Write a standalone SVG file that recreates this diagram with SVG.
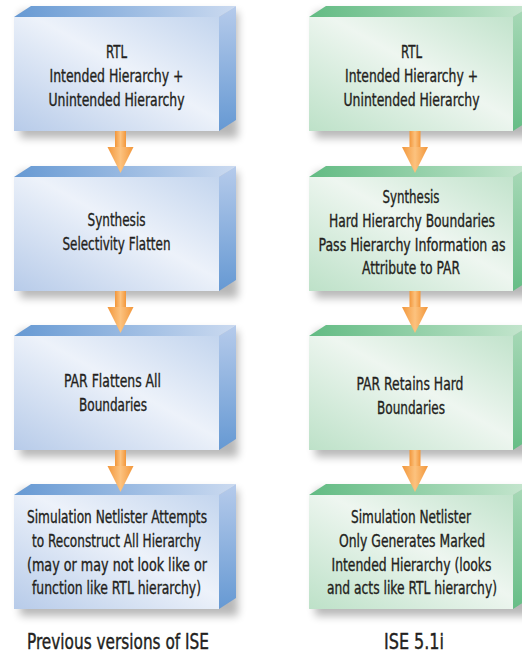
<svg xmlns="http://www.w3.org/2000/svg" width="522" height="655" viewBox="0 0 522 655">
<defs>
<linearGradient id="bFront" x1="0" y1="1" x2="1" y2="0"><stop offset="0" stop-color="#b7cbe9"/><stop offset="0.55" stop-color="#edf2fa"/><stop offset="1" stop-color="#c3d5ee"/></linearGradient>
<linearGradient id="bTop" x1="0" y1="0" x2="1" y2="0"><stop offset="0" stop-color="#6699d3"/><stop offset="1" stop-color="#cbdaf0"/></linearGradient>
<linearGradient id="bSide" x1="0" y1="0" x2="0" y2="1"><stop offset="0" stop-color="#b6cbeb"/><stop offset="1" stop-color="#6699d3"/></linearGradient>
<linearGradient id="gFront" x1="0" y1="1" x2="1" y2="0"><stop offset="0" stop-color="#bde1c8"/><stop offset="0.55" stop-color="#eef6f0"/><stop offset="1" stop-color="#c2e3cc"/></linearGradient>
<linearGradient id="gTop" x1="0" y1="0" x2="1" y2="0"><stop offset="0" stop-color="#62bb83"/><stop offset="1" stop-color="#c6e6cf"/></linearGradient>
<linearGradient id="gSide" x1="0" y1="0" x2="0" y2="1"><stop offset="0" stop-color="#a9d9b8"/><stop offset="1" stop-color="#66bd86"/></linearGradient>
<linearGradient id="orange" x1="0" y1="0" x2="1" y2="0"><stop offset="0" stop-color="#f2963a"/><stop offset="0.5" stop-color="#fcc27e"/><stop offset="1" stop-color="#f2963a"/></linearGradient>
<filter id="blur" x="-20%" y="-20%" width="140%" height="140%"><feGaussianBlur stdDeviation="4"/></filter>
<g id="arrow">
<rect x="-5.5" y="0" width="11" height="17" fill="url(#orange)"/>
<polygon points="-13,16 13,16 0,42" fill="url(#orange)"/>
</g>
</defs>
<style>
.sh{fill:#000;opacity:0.28;filter:url(#blur)}
.t{font-family:"DejaVu Sans Condensed","DejaVu Sans","Liberation Sans",sans-serif;font-stretch:condensed;font-size:18px;fill:#231f20;stroke:#231f20;stroke-width:0.35px;text-anchor:middle}
.cap{font-family:"DejaVu Sans Condensed","DejaVu Sans","Liberation Sans",sans-serif;font-stretch:condensed;font-size:22px;fill:#231f20;stroke:#231f20;stroke-width:0.4px;text-anchor:middle}
</style>
<rect width="522" height="655" fill="#ffffff"/>

<!-- Left column -->
<g id="L1">
<rect class="sh" x="20" y="12" width="218" height="126"/>
<polygon points="14,17 31,6 236,6 219,17" fill="url(#bTop)"/>
<polygon points="219,17 236,6 236,120 219,131" fill="url(#bSide)"/>
<rect x="14" y="17" width="205" height="114" fill="url(#bFront)"/>
<g transform="scale(0.8,1)">
<text class="t" x="145.63" y="58" textLength="26.25" lengthAdjust="spacingAndGlyphs">RTL</text>
<text class="t" x="145.63" y="82" textLength="167.5" lengthAdjust="spacingAndGlyphs">Intended Hierarchy +</text>
<text class="t" x="145.63" y="106" textLength="170" lengthAdjust="spacingAndGlyphs">Unintended Hierarchy</text>
</g>
</g>
<g id="L2">
<rect class="sh" x="20" y="172" width="218" height="126"/>
<polygon points="14,177 31,166 236,166 219,177" fill="url(#bTop)"/>
<polygon points="219,177 236,166 236,280 219,291" fill="url(#bSide)"/>
<rect x="14" y="177" width="205" height="114" fill="url(#bFront)"/>
<g transform="scale(0.8,1)">
<text class="t" x="145.63" y="226" textLength="72.5" lengthAdjust="spacingAndGlyphs">Synthesis</text>
<text class="t" x="145.63" y="250" textLength="135" lengthAdjust="spacingAndGlyphs">Selectivity Flatten</text>
</g>
</g>
<g id="L3">
<rect class="sh" x="20" y="331" width="218" height="126"/>
<polygon points="14,336 31,325 236,325 219,336" fill="url(#bTop)"/>
<polygon points="219,336 236,325 236,439 219,450" fill="url(#bSide)"/>
<rect x="14" y="336" width="205" height="114" fill="url(#bFront)"/>
<g transform="scale(0.8,1)">
<text class="t" x="140.63" y="387" textLength="121.25" lengthAdjust="spacingAndGlyphs">PAR Flattens All</text>
<text class="t" x="141.25" y="411" textLength="85" lengthAdjust="spacingAndGlyphs">Boundaries</text>
</g>
</g>
<g id="L4">
<rect class="sh" x="20" y="490" width="218" height="126"/>
<polygon points="14,495 31,484 236,484 219,495" fill="url(#bTop)"/>
<polygon points="219,495 236,484 236,598 219,609" fill="url(#bSide)"/>
<rect x="14" y="495" width="205" height="114" fill="url(#bFront)"/>
<g transform="scale(0.8,1)">
<text class="t" x="146.25" y="523" textLength="225" lengthAdjust="spacingAndGlyphs">Simulation Netlister Attempts</text>
<text class="t" x="145.63" y="547" textLength="211.25" lengthAdjust="spacingAndGlyphs">to Reconstruct All Hierarchy</text>
<text class="t" x="146.25" y="571" textLength="225" lengthAdjust="spacingAndGlyphs">(may or may not look like or</text>
<text class="t" x="145.63" y="594" textLength="211.25" lengthAdjust="spacingAndGlyphs">function like RTL hierarchy)</text>
</g>
</g>
<g id="capL" transform="scale(0.7,1)">
<text class="cap" x="168.57" y="649" textLength="260" lengthAdjust="spacingAndGlyphs">Previous versions of ISE</text>
</g>

<!-- Right column -->
<g id="R1">
<rect class="sh" x="315" y="12" width="218" height="126"/>
<polygon points="309,17 326,6 530,6 513,17" fill="url(#gTop)"/>
<polygon points="513,17 530,6 530,120 513,131" fill="url(#gSide)"/>
<rect x="309" y="17" width="204" height="114" fill="url(#gFront)"/>
<g transform="scale(0.8,1)">
<text class="t" x="514.38" y="58" textLength="26.25" lengthAdjust="spacingAndGlyphs">RTL</text>
<text class="t" x="514.38" y="82" textLength="166.25" lengthAdjust="spacingAndGlyphs">Intended Hierarchy +</text>
<text class="t" x="514.38" y="106" textLength="170" lengthAdjust="spacingAndGlyphs">Unintended Hierarchy</text>
</g>
</g>
<g id="R2">
<rect class="sh" x="315" y="172" width="218" height="126"/>
<polygon points="309,177 326,166 530,166 513,177" fill="url(#gTop)"/>
<polygon points="513,177 530,166 530,280 513,291" fill="url(#gSide)"/>
<rect x="309" y="177" width="204" height="114" fill="url(#gFront)"/>
<g transform="scale(0.8,1)">
<text class="t" x="513.75" y="203" textLength="71.25" lengthAdjust="spacingAndGlyphs">Synthesis</text>
<text class="t" x="515" y="227" textLength="207.5" lengthAdjust="spacingAndGlyphs">Hard Hierarchy Boundaries</text>
<text class="t" x="515" y="251" textLength="233.75" lengthAdjust="spacingAndGlyphs">Pass Hierarchy Information as</text>
<text class="t" x="513.75" y="274" textLength="122.5" lengthAdjust="spacingAndGlyphs">Attribute to PAR</text>
</g>
</g>
<g id="R3">
<rect class="sh" x="315" y="331" width="218" height="126"/>
<polygon points="309,336 326,325 530,325 513,336" fill="url(#gTop)"/>
<polygon points="513,336 530,325 530,439 513,450" fill="url(#gSide)"/>
<rect x="309" y="336" width="204" height="114" fill="url(#gFront)"/>
<g transform="scale(0.8,1)">
<text class="t" x="512.5" y="390" textLength="133.75" lengthAdjust="spacingAndGlyphs">PAR Retains Hard</text>
<text class="t" x="513.75" y="414" textLength="85" lengthAdjust="spacingAndGlyphs">Boundaries</text>
</g>
</g>
<g id="R4">
<rect class="sh" x="315" y="490" width="218" height="126"/>
<polygon points="309,495 326,484 530,484 513,495" fill="url(#gTop)"/>
<polygon points="513,495 530,484 530,598 513,609" fill="url(#gSide)"/>
<rect x="309" y="495" width="204" height="114" fill="url(#gFront)"/>
<g transform="scale(0.8,1)">
<text class="t" x="513.75" y="523" textLength="150" lengthAdjust="spacingAndGlyphs">Simulation Netlister</text>
<text class="t" x="515" y="547" textLength="182.5" lengthAdjust="spacingAndGlyphs">Only Generates Marked</text>
<text class="t" x="514.38" y="571" textLength="200" lengthAdjust="spacingAndGlyphs">Intended Hierarchy (looks</text>
<text class="t" x="515" y="594" textLength="212.5" lengthAdjust="spacingAndGlyphs">and acts like RTL hierarchy)</text>
</g>
</g>
<g id="capR" transform="scale(0.7,1)">
<text class="cap" x="591.43" y="649" textLength="85.71" lengthAdjust="spacingAndGlyphs">ISE 5.1i</text>
</g>

<!-- Connectors -->
<g id="connectors">
<use href="#arrow" x="120.5" y="131"/>
<use href="#arrow" x="120.5" y="291"/>
<use href="#arrow" x="120.5" y="450"/>
<use href="#arrow" x="415" y="131"/>
<use href="#arrow" x="415" y="291"/>
<use href="#arrow" x="415" y="450"/>
</g>
</svg>
